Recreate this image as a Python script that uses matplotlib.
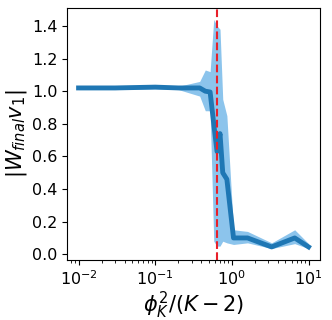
import matplotlib
matplotlib.use("Agg")
import matplotlib.pyplot as plt
import numpy as np

x_vals = [0.01, 0.03, 0.1, 0.2, 0.38, 0.45, 0.52, 0.58, 0.64, 0.70, 0.76, 0.86, 1.05, 1.6, 3.3, 6.6, 10.0]
mean_vals = [1.02, 1.02, 1.025, 1.02, 1.02, 1.0, 0.995, 0.80, 0.63, 0.74, 0.50, 0.46, 0.10, 0.10, 0.045, 0.10, 0.045]
upper_vals = [1.03, 1.03, 1.035, 1.03, 1.06, 1.13, 1.12, 1.44, 1.40, 1.38, 0.95, 0.85, 0.15, 0.14, 0.07, 0.15, 0.065]
lower_vals = [1.01, 1.01, 1.015, 1.01, 0.97, 0.88, 0.88, 0.08, 0.05, 0.05, 0.08, 0.07, 0.06, 0.07, 0.035, 0.065, 0.035]
threshold = 0.64

fig = plt.figure(figsize=(3.32, 3.20), dpi=100)
ax = fig.add_axes([0.202, 0.1875, 0.762, 0.7875])
ax.fill_between(x_vals, lower_vals, upper_vals, color='#8cc4ec', linewidth=0)
ax.plot(x_vals, mean_vals, color='#1f77b4', linewidth=3.5)
ax.axvline(threshold, color='#e8202a', linestyle='--', linewidth=1.5)
ax.set_xscale('log')
ax.set_yticks([0.0, 0.2, 0.4, 0.6, 0.8, 1.0, 1.2, 1.4])
ax.tick_params(labelsize=11.5)
ax.set_xlabel(r'$\phi_K^2/(K-2)$', fontsize=15, labelpad=1)
ax.set_ylabel(r'$|W_{final}v_1|$', fontsize=15, labelpad=2)
fig.savefig('out.png', dpi=100)
